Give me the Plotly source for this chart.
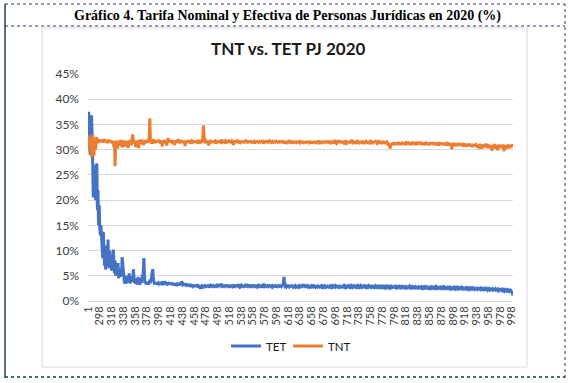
import plotly.graph_objects as go

# ---------------- data ----------------
categories = ["1"] + [str(i) for i in range(279, 1001)]

tet = [
    31.5, 37.5, 36.0, 30.0, 29.0, 31.0, 36.8, 33.0, 25.0, 20.5, 27.0, 22.0, 26.5, 20.0, 24.0, 27.3, 18.0, 22.0, 15.0, 19.0,
    14.5, 13.0, 15.0, 12.5, 10.0, 8.5, 13.7, 9.0, 7.0, 11.0, 6.2, 8.0, 9.5, 7.0, 12.2, 8.0, 6.5, 10.0, 7.5, 9.0,
    6.0, 9.0, 7.0, 10.2, 6.5, 5.5, 8.0, 5.0, 7.0, 6.0, 5.2, 7.5, 4.5, 6.0, 5.0, 4.8, 6.5, 5.0, 8.7, 7.0,
    5.5, 4.0, 3.5, 4.8, 3.4, 4.2, 5.0, 3.6, 4.5, 3.8, 5.5, 4.0, 3.5, 4.6, 3.8, 5.0, 4.2, 6.3, 4.5, 3.6,
    4.0, 3.4, 4.5, 3.6, 3.3, 4.8, 3.5, 4.0, 3.2, 3.8, 4.5, 3.6, 5.2, 4.0, 6.0, 8.5, 5.0, 3.5, 3.8, 3.3,
    3.6, 3.4, 3.8, 3.3, 3.5, 4.2, 3.6, 4.0, 4.8, 5.5, 6.3, 4.5, 3.5, 3.3, 3.6, 3.4, 3.7, 3.3, 3.5, 3.6,
    3.4, 3.6, 3.3, 3.5, 3.8, 3.4, 3.2, 3.6, 3.5, 3.9, 3.4, 3.3, 3.6, 3.5, 3.2, 3.7, 3.4, 3.5, 3.3, 3.6,
    3.3, 3.5, 3.2, 3.4, 3.6, 3.1, 3.3, 3.5, 3.2, 3.4, 3.0, 3.3, 3.6, 3.2, 3.4, 3.1, 3.3, 3.5, 3.2, 3.9,
    3.6, 3.2, 3.3, 3.1, 3.4, 3.0, 3.2, 3.5, 3.1, 2.9, 3.3, 3.2, 3.0, 3.4, 3.1, 2.8, 3.2, 3.0, 3.3, 2.9,
    3.0, 3.2, 2.9, 3.1, 2.8, 3.0, 3.3, 2.9, 2.7, 3.1, 2.6, 2.4, 2.9, 3.0, 2.5, 2.8, 3.1, 2.9, 2.7, 3.0,
    2.9, 3.1, 2.8, 3.0, 3.2, 2.9, 2.7, 3.0, 3.1, 2.8, 3.0, 2.9, 3.2, 2.8, 3.0, 2.9, 3.1, 2.8, 3.0, 2.9,
    3.1, 2.9, 3.3, 3.0, 2.8, 3.2, 3.4, 3.1, 2.9, 3.0, 2.8, 3.1, 2.9, 3.0, 3.2, 2.8, 3.0, 2.9, 3.1, 2.8,
    3.0, 2.9, 3.1, 2.8, 3.0, 3.2, 2.9, 3.0, 2.7, 3.1, 2.9, 3.0, 3.2, 2.8, 3.0, 2.9, 3.1, 3.0, 2.8, 3.0,
    2.9, 3.1, 3.0, 2.8, 3.2, 2.9, 3.0, 3.1, 2.8, 3.0, 3.3, 3.1, 2.9, 3.0, 2.8, 3.1, 2.9, 3.0, 3.2, 2.9,
    3.0, 2.8, 3.1, 2.9, 3.0, 3.2, 2.9, 2.8, 3.0, 3.1, 2.9, 3.0, 2.8, 3.1, 2.9, 3.0, 2.7, 3.0, 2.9, 3.1,
    2.9, 3.0, 2.8, 3.1, 2.9, 3.0, 3.2, 2.9, 3.0, 2.8, 3.1, 2.9, 3.0, 2.8, 3.0, 2.9, 3.1, 2.8, 3.0, 2.9,
    3.0, 2.9, 3.1, 2.8, 3.0, 2.9, 3.0, 2.8, 3.1, 2.9, 3.0, 3.2, 3.6, 4.8, 3.3, 2.9, 3.0, 2.8, 3.0, 2.9,
    2.9, 3.0, 2.8, 2.9, 3.1, 2.8, 3.0, 2.9, 3.1, 2.8, 2.9, 3.0, 2.8, 3.0, 2.9, 3.1, 2.8, 2.9, 3.0, 2.8,
    3.0, 2.9, 3.2, 3.0, 2.9, 3.1, 3.3, 3.0, 2.9, 3.1, 2.8, 3.0, 2.9, 2.8, 3.0, 2.9, 3.1, 2.8, 2.9, 3.0,
    2.8, 2.9, 3.0, 2.8, 2.9, 2.7, 3.0, 2.8, 2.9, 3.1, 2.8, 2.9, 2.7, 3.0, 2.8, 2.9, 3.0, 2.8, 2.9, 2.7,
    2.9, 3.0, 2.8, 2.9, 3.1, 2.8, 2.9, 2.7, 3.0, 2.8, 2.9, 3.0, 2.8, 2.9, 2.7, 2.9, 3.0, 2.8, 2.9, 2.8,
    3.0, 2.8, 2.9, 2.7, 3.0, 2.8, 2.9, 3.1, 2.8, 2.9, 2.8, 3.0, 2.7, 2.9, 2.8, 3.0, 2.8, 2.9, 2.7, 2.9,
    2.8, 2.9, 3.0, 2.8, 2.7, 2.9, 2.8, 3.0, 2.8, 2.9, 2.7, 2.8, 3.0, 2.9, 2.8, 2.7, 2.9, 2.8, 3.0, 2.8,
    2.9, 2.7, 2.8, 3.0, 2.8, 2.9, 2.7, 2.8, 2.9, 3.0, 2.8, 2.7, 2.9, 2.8, 2.9, 2.7, 2.8, 3.0, 2.8, 2.9,
    2.8, 2.9, 2.7, 2.8, 2.9, 2.8, 2.7, 2.9, 2.8, 3.0, 2.8, 2.7, 2.8, 2.9, 2.7, 2.8, 2.9, 2.7, 2.8, 2.9,
    2.7, 2.8, 2.9, 2.7, 2.8, 2.6, 2.8, 2.9, 2.7, 2.8, 2.9, 2.7, 2.8, 2.6, 2.8, 2.7, 2.9, 2.8, 2.7, 2.8,
    2.8, 2.7, 2.9, 2.8, 2.6, 2.8, 2.7, 2.8, 2.9, 2.7, 2.8, 2.6, 2.7, 2.8, 2.9, 2.7, 2.8, 2.7, 2.6, 2.8,
    2.7, 2.8, 2.6, 2.7, 2.8, 2.7, 2.9, 2.7, 2.6, 2.8, 2.7, 2.8, 2.6, 2.7, 2.8, 2.7, 2.6, 2.8, 2.7, 2.6,
    2.7, 2.6, 2.8, 2.7, 2.6, 2.7, 2.8, 2.6, 2.7, 2.5, 2.7, 2.8, 2.6, 2.7, 2.6, 2.8, 2.7, 2.6, 2.7, 2.5,
    2.6, 2.7, 2.5, 2.7, 2.8, 2.6, 2.7, 2.6, 2.5, 2.7, 2.6, 2.8, 2.6, 2.7, 2.5, 2.6, 2.7, 2.6, 2.5, 2.7,
    2.6, 2.5, 2.7, 2.6, 2.8, 2.6, 2.5, 2.7, 2.6, 2.5, 2.6, 2.7, 2.5, 2.6, 2.7, 2.5, 2.6, 2.4, 2.6, 2.5,
    2.6, 2.5, 2.7, 2.5, 2.6, 2.4, 2.6, 2.7, 2.5, 2.6, 2.4, 2.5, 2.6, 2.5, 2.7, 2.5, 2.4, 2.6, 2.5, 2.4,
    2.5, 2.6, 2.4, 2.5, 2.6, 2.4, 2.5, 2.3, 2.5, 2.6, 2.4, 2.5, 2.4, 2.6, 2.5, 2.4, 2.5, 2.3, 2.4, 2.5,
    2.4, 2.5, 2.3, 2.4, 2.5, 2.4, 2.3, 2.5, 2.4, 2.3, 2.5, 2.4, 2.3, 2.4, 2.5, 2.3, 2.4, 2.3, 2.4, 2.2,
    2.4, 2.3, 2.4, 2.2, 2.3, 2.4, 2.3, 2.2, 2.4, 2.3, 2.2, 2.3, 2.4, 2.2, 2.3, 2.2, 2.3, 2.1, 2.3, 2.2,
    2.2, 2.3, 2.1, 2.2, 2.3, 2.1, 2.2, 2.0, 2.2, 2.1, 2.2, 2.0, 2.1, 2.2, 2.0, 2.1, 1.9, 2.0, 2.1, 1.9,
    1.8, 1.5, 1.1,
]

tnt = [
    32.5, 31.0, 32.8, 30.0, 31.5, 29.0, 28.5, 31.0, 33.0, 30.5, 28.8, 32.0, 31.5, 30.0, 32.5, 31.8, 31.2, 32.0, 31.5, 31.8,
    31.7, 31.9, 31.5, 32.0, 31.6, 31.8, 31.4, 32.1, 31.7, 31.5, 31.9, 31.6, 31.8, 31.3, 31.7, 32.0, 31.6, 31.4, 31.8, 31.6,
    31.5, 31.8, 31.2, 31.6, 30.5, 31.7, 26.7, 31.4, 31.0, 31.8, 30.2, 31.5, 31.7, 31.2, 30.8, 31.6, 31.9, 31.3, 30.4, 31.7,
    31.6, 31.2, 31.8, 30.6, 31.5, 31.7, 31.0, 31.6, 30.3, 31.8, 31.4, 31.6, 31.9, 30.8, 31.5, 32.2, 33.0, 31.7, 31.4, 31.2,
    31.6, 30.5, 31.8, 31.5, 31.2, 31.7, 30.3, 31.6, 31.9, 31.4, 31.5, 32.0, 31.7, 31.4, 30.9, 31.6, 31.8, 31.3, 31.5, 31.9,
    31.6, 31.4, 31.8, 31.5, 32.5, 36.2, 32.0, 31.6, 31.2, 31.7, 31.8, 31.5, 31.6, 31.3, 31.9, 31.7, 31.4, 31.6, 31.8, 31.5,
    31.7, 31.5, 31.9, 31.2, 31.6, 31.8, 30.6, 31.7, 31.4, 31.9, 31.6, 31.3, 31.8, 31.5, 30.8, 31.7, 32.3, 31.5, 31.6, 31.8,
    31.4, 31.7, 31.9, 31.5, 31.2, 31.8, 31.6, 30.9, 31.7, 31.5, 31.8, 31.4, 31.6, 32.1, 31.5, 31.3, 31.7, 31.6, 31.9, 31.4,
    31.6, 31.8, 31.3, 31.7, 31.5, 30.7, 31.8, 31.6, 31.4, 31.9, 31.5, 31.7, 31.3, 31.6, 31.8, 31.5, 31.2, 31.7, 31.6, 31.8,
    31.5, 31.7, 31.4, 31.8, 31.6, 31.3, 31.7, 31.9, 31.5, 31.6, 31.2, 31.8, 31.6, 31.4, 31.7, 32.4, 34.8, 32.0, 31.6, 31.5,
    31.7, 31.5, 31.8, 31.4, 31.6, 30.8, 31.7, 31.5, 31.9, 31.6, 31.3, 31.7, 31.5, 31.8, 31.4, 31.6, 31.7, 31.2, 31.6, 31.8,
    31.5, 31.7, 31.4, 31.8, 31.6, 31.3, 31.7, 32.0, 31.5, 31.6, 31.4, 31.8, 31.5, 31.2, 31.7, 31.6, 31.9, 31.4, 31.6, 31.7,
    31.4, 31.6, 31.8, 31.5, 31.3, 31.7, 31.6, 30.9, 31.7, 31.5, 31.8, 31.4, 31.6, 31.7, 31.3, 31.6, 31.8, 31.5, 31.4, 31.7,
    31.6, 31.4, 31.7, 31.5, 31.8, 31.3, 31.6, 31.7, 31.4, 31.6, 31.9, 31.5, 31.3, 31.7, 31.6, 31.4, 31.8, 31.5, 31.6, 31.3,
    31.7, 31.5, 31.6, 31.2, 31.7, 31.5, 31.8, 31.4, 31.6, 31.5, 31.7, 31.3, 31.6, 31.8, 31.4, 31.6, 31.5, 31.7, 31.2, 31.6,
    31.5, 31.7, 31.4, 31.6, 31.8, 31.5, 31.3, 31.6, 31.7, 31.4, 31.6, 31.5, 31.8, 31.3, 31.6, 31.5, 31.7, 31.4, 31.6, 31.5,
    31.6, 31.4, 31.7, 31.5, 31.3, 31.6, 31.8, 31.4, 31.5, 31.7, 31.3, 31.6, 31.5, 31.7, 31.4, 31.6, 31.2, 31.5, 31.7, 31.4,
    31.5, 31.6, 31.3, 31.7, 31.4, 31.6, 31.5, 31.2, 31.6, 31.4, 31.7, 31.5, 31.3, 31.6, 31.4, 31.5, 31.7, 31.3, 31.5, 31.6,
    31.4, 31.6, 31.3, 31.5, 31.7, 31.4, 31.2, 31.6, 31.5, 31.3, 31.6, 31.4, 31.7, 31.5, 31.3, 31.6, 31.4, 31.5, 31.2, 31.6,
    31.5, 31.3, 31.6, 31.4, 31.7, 31.5, 31.2, 31.6, 31.4, 31.5, 31.3, 31.6, 31.8, 31.4, 31.5, 31.3, 31.6, 31.4, 31.5, 31.7,
    31.4, 31.6, 31.3, 31.5, 31.7, 31.4, 31.6, 31.3, 31.8, 31.5, 31.4, 31.6, 31.3, 31.5, 31.7, 31.4, 31.5, 31.6, 31.3, 31.5,
    31.6, 31.4, 31.5, 31.3, 31.6, 31.5, 31.8, 31.4, 31.6, 31.5, 31.3, 31.6, 31.4, 31.7, 31.5, 31.3, 31.5, 31.6, 31.4, 31.5,
    31.3, 31.5, 31.7, 31.4, 31.6, 31.3, 31.5, 31.7, 31.9, 31.6, 31.4, 31.5, 31.3, 31.6, 31.4, 31.5, 31.2, 31.5, 31.6, 31.3,
    31.5, 31.4, 31.6, 31.3, 31.5, 31.7, 31.4, 31.5, 31.2, 31.6, 31.4, 31.5, 31.3, 31.6, 31.5, 31.4, 31.7, 31.3, 31.5, 31.4,
    31.6, 31.4, 31.5, 31.3, 31.6, 31.4, 31.5, 31.7, 31.4, 31.6, 31.5, 31.3, 31.5, 31.6, 31.4, 31.5, 31.3, 31.6, 31.4, 31.5,
    31.4, 31.6, 31.3, 31.5, 31.4, 31.6, 31.2, 31.4, 31.5, 31.3, 30.8, 31.2, 31.0, 30.2, 30.9, 31.2, 31.0, 31.3, 31.1, 31.4,
    31.2, 31.4, 31.1, 31.3, 31.0, 31.4, 31.2, 31.3, 31.5, 31.1, 31.3, 31.0, 31.4, 31.2, 31.3, 31.1, 31.4, 31.2, 31.0, 31.3,
    31.4, 31.2, 31.3, 31.5, 31.1, 31.3, 31.2, 31.4, 31.0, 31.3, 31.5, 31.2, 31.3, 31.1, 31.4, 31.2, 31.0, 31.3, 31.5, 31.2,
    31.3, 31.1, 31.4, 31.2, 31.5, 31.0, 31.3, 31.2, 31.4, 31.1, 31.3, 30.9, 31.2, 31.4, 31.1, 31.3, 31.2, 31.0, 31.3, 31.1,
    31.2, 31.4, 31.0, 31.3, 31.1, 31.5, 31.2, 31.0, 31.3, 31.1, 31.4, 31.2, 30.9, 31.3, 31.1, 31.2, 30.8, 31.2, 31.4, 31.0,
    31.3, 31.1, 31.4, 31.0, 31.2, 30.9, 31.3, 31.1, 31.2, 30.8, 31.3, 31.0, 31.2, 31.1, 30.9, 31.2, 31.0, 31.3, 30.1, 30.8,
    31.1, 31.3, 30.9, 31.2, 31.0, 30.7, 31.2, 31.0, 30.8, 31.1, 31.3, 30.9, 31.1, 30.8, 31.2, 31.0, 30.9, 31.2, 30.7, 31.0,
    30.9, 31.2, 30.8, 31.0, 30.6, 31.1, 30.9, 31.2, 30.7, 31.0, 30.8, 31.1, 30.9, 30.5, 31.0, 30.8, 31.1, 30.7, 30.9, 31.0,
    30.8, 30.4, 31.0, 30.7, 30.9, 30.2, 30.8, 31.1, 30.6, 30.9, 30.3, 30.8, 31.0, 30.6, 30.9, 30.5, 31.2, 30.7, 30.4, 30.9,
    30.7, 31.0, 30.3, 30.8, 30.5, 30.9, 29.8, 30.6, 30.9, 30.4, 30.8, 31.1, 30.5, 30.2, 30.8, 30.6, 29.9, 30.7, 31.0, 30.5,
    30.8, 30.4, 30.9, 30.3, 30.7, 31.0, 30.5, 29.7, 30.6, 30.9, 30.4, 30.8, 30.2, 30.7, 31.0, 30.5, 30.8, 30.3, 30.9, 30.6,
    30.8, 31.0, 30.7,
]

tick_labels = categories[::20]
y_ticks = [0, 5, 10, 15, 20, 25, 30, 35, 40, 45]

# ---------------- layout geometry (screen pixels) ----------------
W, H = 580, 383
L, R, T, B = 88, 513, 74, 301


def px(x):
    return (x - L) / (R - L)


def py(y):
    return (B - y) / (B - T)


fig = go.Figure()
fig.add_trace(go.Scatter(x=categories, y=tet, mode="lines", name="TET",
                         line=dict(color="#4472C4", width=3), legend="legend"))
fig.add_trace(go.Scatter(x=categories, y=tnt, mode="lines", name="TNT",
                         line=dict(color="#ED7D31", width=3), legend="legend2"))

navy = "#1F3864"
shapes = [
    dict(type="rect", xref="paper", yref="paper", x0=px(42), x1=px(527), y0=py(367), y1=py(28),
         line=dict(color="#D9D9D9", width=1), fillcolor="rgba(0,0,0,0)", layer="below"),
    dict(type="line", xref="paper", yref="paper", x0=px(5), x1=px(5), y0=py(378), y1=py(4),
         line=dict(color=navy, width=1.5)),
    dict(type="line", xref="paper", yref="paper", x0=px(5), x1=px(565), y0=py(4), y1=py(4),
         line=dict(color=navy, width=1, dash="dot")),
    dict(type="line", xref="paper", yref="paper", x0=px(5), x1=px(565), y0=py(26), y1=py(26),
         line=dict(color=navy, width=1, dash="dot")),
    dict(type="line", xref="paper", yref="paper", x0=px(565), x1=px(565), y0=py(378), y1=py(4),
         line=dict(color=navy, width=1, dash="dot")),
    dict(type="line", xref="paper", yref="paper", x0=px(5), x1=px(565), y0=py(377), y1=py(377),
         line=dict(color=navy, width=1.5, dash="dot")),
]

annotations = [
    dict(text="<b>Gráfico 4. Tarifa Nominal y Efectiva de Personas Jurídicas en 2020 (%)</b>",
         xref="paper", yref="paper", x=px(287), y=py(16), xanchor="center", yanchor="middle",
         showarrow=False, font=dict(family="Liberation Serif", size=14, color="#000000")),
    dict(text="<b>TNT vs. TET PJ 2020</b>",
         xref="paper", yref="paper", x=px(288), y=py(48), xanchor="center", yanchor="middle",
         showarrow=False, font=dict(family="Lato", size=17, color="#1a1a1a")),
]

legend_common = dict(orientation="h", xanchor="left", yanchor="middle", y=py(346),
                     font=dict(family="Lato", size=11.5, color="#1a1a1a"),
                     bgcolor="rgba(0,0,0,0)")

fig.update_layout(
    width=W, height=H,
    margin=dict(l=L, r=W - R, t=T, b=H - B, pad=0),
    paper_bgcolor="white", plot_bgcolor="white",
    font=dict(family="Lato", size=11, color="#404040"),
    showlegend=True,
    legend=dict(x=px(226), **legend_common),
    legend2=dict(x=px(288), **legend_common),
    shapes=shapes,
    annotations=annotations,
    xaxis=dict(type="category", tickmode="array", tickvals=tick_labels, ticktext=tick_labels,
               tickangle=-90, showgrid=False, zeroline=False, showline=True,
               linecolor="#D9D9D9", linewidth=1, ticks="",
               tickfont=dict(family="Lato", size=11, color="#404040")),
    yaxis=dict(range=[0, 45], tickmode="array", tickvals=y_ticks,
               ticktext=[f"{v}%" for v in y_ticks], showgrid=True, gridcolor="#D9D9D9",
               gridwidth=1, zeroline=False, showline=False, ticks="",
               ticklabelstandoff=8,
               tickfont=dict(family="Lato", size=12, color="#404040")),
)

# remove the browser's default 8px page margin so the figure sits at the window origin
fig.write_html("out.html",
               config={"displayModeBar": False},
               post_script="document.body.style.margin='0';document.body.style.overflow='hidden';")
